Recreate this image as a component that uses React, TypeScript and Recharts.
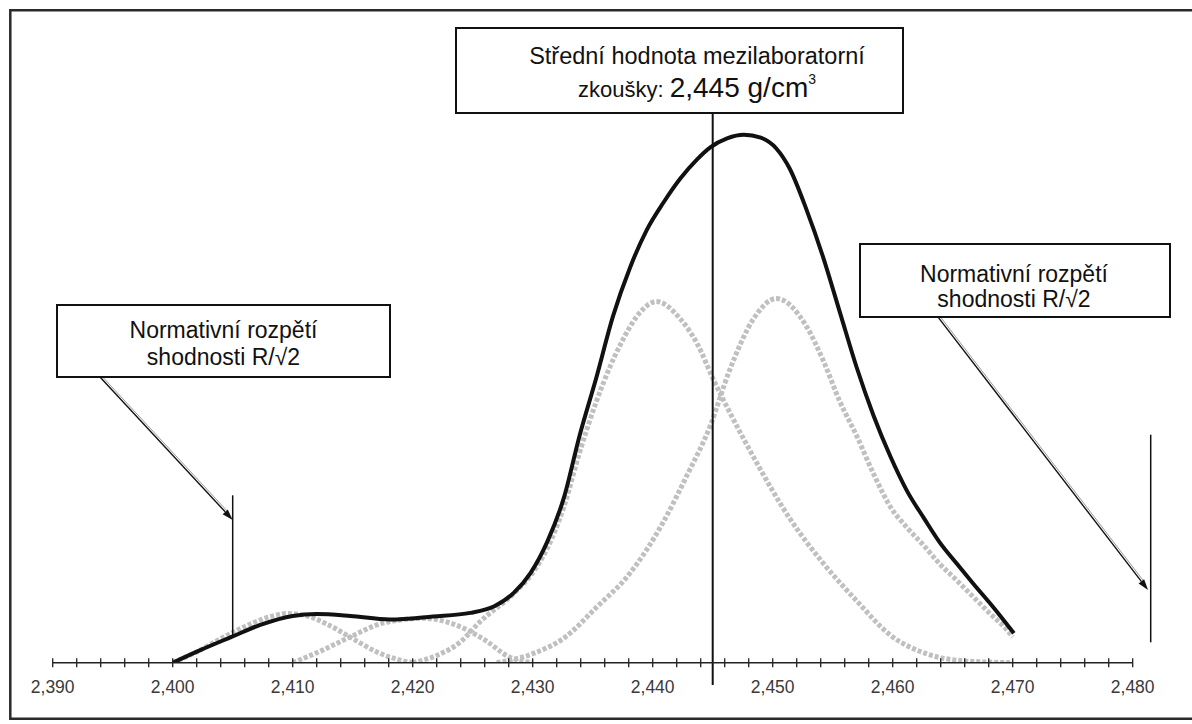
import React from 'react';
import { ComposedChart, Line, XAxis, YAxis, ReferenceLine } from 'recharts';

// x = density g/cm3, y = relative frequency (arbitrary units, 0..100)
const TOTAL_X = [2.4, 2.4023, 2.4049, 2.4073, 2.41, 2.412, 2.4148, 2.4181, 2.4217, 2.4248, 2.4268, 2.4284, 2.4298, 2.4312, 2.4326, 2.4339, 2.4353, 2.4367, 2.4381, 2.4395, 2.4409, 2.4423, 2.4437, 2.4448, 2.4462, 2.4476, 2.449, 2.4503, 2.4514, 2.4528, 2.4542, 2.4556, 2.457, 2.4584, 2.4598, 2.4612, 2.4626, 2.4639, 2.4653, 2.4667, 2.4684, 2.4701];
const TOTAL_Y = [0, 2.1, 4.3, 6.3, 7.8, 8.1, 7.8, 7.2, 7.7, 8.3, 9.4, 11.6, 14.9, 20.1, 27.5, 37.8, 47.5, 57.8, 65.8, 72.1, 76.7, 80.7, 83.9, 85.9, 87.4, 88.0, 87.5, 85.7, 82.4, 75.6, 67.6, 58.4, 49.2, 41.2, 34.4, 28.6, 24.1, 20.1, 16.6, 13.2, 9.2, 4.9];

const LAB_A_X = [2.4, 2.402, 2.404, 2.406, 2.408, 2.4095, 2.411, 2.413, 2.415, 2.417, 2.419, 2.42];
const LAB_A_Y = [0, 1.8, 4.0, 6.0, 7.6, 8.2, 7.9, 6.3, 4.0, 1.8, 0.4, 0];

const LAB_B_X = [2.41, 2.4125, 2.415, 2.4175, 2.421, 2.423, 2.426, 2.428, 2.43];
const LAB_B_Y = [0, 2.1, 4.5, 6.6, 7.4, 6.7, 3.8, 1.0, 0];

const LAB_C_X = [2.42, 2.422, 2.424, 2.4256, 2.4284, 2.43, 2.4312, 2.4326, 2.4339, 2.4353, 2.4373, 2.439, 2.4403, 2.4423, 2.4437, 2.4451, 2.4464, 2.4487, 2.4514, 2.4542, 2.457, 2.4598, 2.4628, 2.466, 2.47];
const LAB_C_Y = [0, 1.2, 3.5, 6.8, 11.5, 15, 19, 26, 35, 43.5, 53, 58.5, 60.2, 57.3, 53.2, 47, 41.8, 33.2, 24.1, 16.6, 10.3, 4.6, 1.5, 0.3, 0];

const LAB_D_X = [2.427, 2.43, 2.4326, 2.4353, 2.4381, 2.4409, 2.4428, 2.4448, 2.4464, 2.4484, 2.4503, 2.4528, 2.4542, 2.4556, 2.457, 2.4584, 2.4598, 2.4612, 2.4626, 2.4639, 2.4653, 2.4667, 2.4681, 2.4695, 2.47];
const LAB_D_Y = [0, 1.5, 4.1, 9.2, 14.9, 23.5, 31, 39.5, 48.7, 57.3, 60.7, 56.1, 50.4, 43.5, 37.8, 31.5, 26, 22.5, 19.5, 16.5, 13.8, 11, 8.2, 5.5, 4.3];

const TICK_VALUES = [2.39, 2.4, 2.41, 2.42, 2.43, 2.44, 2.45, 2.46, 2.47, 2.48];
const TICK_LABELS = ['2,390', '2,400', '2,410', '2,420', '2,430', '2,440', '2,450', '2,460', '2,470', '2,480'];

const MEAN = 2.445;
const LOWER_LIMIT = 2.405;
const UPPER_LIMIT = 2.4815;

const zip = (xs: number[], ys: number[]) => xs.map((x, i) => ({ x, y: ys[i] }));

const total = zip(TOTAL_X, TOTAL_Y);
const labs = [zip(LAB_A_X, LAB_A_Y), zip(LAB_B_X, LAB_B_Y), zip(LAB_C_X, LAB_C_Y), zip(LAB_D_X, LAB_D_Y)];

// minor ticks every 0.002 between the labelled ones
const allTicks: number[] = [];
for (let i = 0; i < TICK_VALUES.length - 1; i++) {
  for (let k = 0; k < 5; k++) allTicks.push(Math.round((TICK_VALUES[i] + k * 0.002) * 1000) / 1000);
}
allTicks.push(TICK_VALUES[TICK_VALUES.length - 1]);

const FONT = '"Liberation Sans", Arial, sans-serif';

const AxisTick = (props: any) => {
  const { x, y, payload } = props;
  const idx = TICK_VALUES.findIndex((v) => Math.abs(v - payload.value) < 1e-6);
  return (
    <g>
      <line x1={x} y1={y - 4.5} x2={x} y2={y + 4.5} stroke="#222" strokeWidth={1.3} />
      {idx >= 0 && (
        <text x={x} y={y + 30.5} textAnchor="middle" fontSize={17.5} fill="#3a3a3a" fontFamily={FONT}>
          {TICK_LABELS[idx]}
        </text>
      )}
    </g>
  );
};

const Arrow = (props: any) => {
  const { x1, y1, x2, y2 } = props;
  const ang = Math.atan2(y2 - y1, x2 - x1);
  const len = 11;
  const half = 3.5;
  const bx = x2 - len * Math.cos(ang);
  const by = y2 - len * Math.sin(ang);
  const nx = -Math.sin(ang);
  const ny = Math.cos(ang);
  return (
    <g>
      <line x1={x1 - nx * 2} y1={y1 - ny * 2} x2={bx - nx * 2} y2={by - ny * 2} stroke="#9a9a9a" strokeWidth={1} />
      <line x1={x1} y1={y1} x2={bx} y2={by} stroke="#111" strokeWidth={1.4} />
      <polygon points={`${x2},${y2} ${bx + nx * half},${by + ny * half} ${bx - nx * half},${by - ny * half}`} fill="#111" />
    </g>
  );
};

const Annotations = () => (
  <svg width={1192} height={724} style={{ position: 'absolute', left: 0, top: 0, pointerEvents: 'none' }} fontFamily={FONT}>
    <path d="M 1200 10.3 H 10.3 V 718.7 H 1200" fill="none" stroke="#2a2a2a" strokeWidth={2.5} />

    <rect x={456} y={28} width={447} height={85} fill="#fff" stroke="#111" strokeWidth={2} />
    <text x={697} y={63.5} textAnchor="middle" fontSize={23.5} fill="#111">Střední hodnota mezilaboratorní</text>
    <text x={697} y={96.5} textAnchor="middle" fill="#111">
      <tspan fontSize={22}>zkoušky: </tspan>
      <tspan fontSize={28}>2,445 g/cm</tspan>
      <tspan fontSize={14} dy={-13}>3</tspan>
    </text>

    <rect x={57} y={305} width={333} height={72} fill="#fff" stroke="#111" strokeWidth={2} />
    <text x={223.5} y={338} textAnchor="middle" fontSize={23} fill="#111">Normativní rozpětí</text>
    <text x={223.5} y={365} textAnchor="middle" fontSize={23} fill="#111">shodnosti R/√2</text>

    <rect x={860} y={244} width={310} height={73} fill="#fff" stroke="#111" strokeWidth={2} />
    <text x={1014} y={281.5} textAnchor="middle" fontSize={23} fill="#111">Normativní rozpětí</text>
    <text x={1014} y={306.5} textAnchor="middle" fontSize={23} fill="#111">shodnosti R/√2</text>
  </svg>
);

export default function App() {
  return (
    <div style={{ position: 'absolute', left: 0, top: 0, width: 1192, height: 724, background: '#fff', overflow: 'hidden' }}>
      <ComposedChart width={1192} height={724} margin={{ top: 62.7, right: 59.3, bottom: 31.3, left: 52.7 }}>
        <XAxis
          type="number"
          dataKey="x"
          domain={[2.39, 2.48]}
          ticks={allTicks}
          interval={0}
          height={30}
          tick={<AxisTick />}
          tickLine={false}
          tickSize={0}
          tickMargin={0}
          axisLine={{ stroke: '#222', strokeWidth: 1.4 }}
          allowDataOverflow
        />
        <YAxis type="number" domain={[0, 100]} hide width={0} allowDataOverflow />
        {labs.map((d, i) => (
          <Line
            key={i}
            data={d}
            dataKey="y"
            type="monotone"
            stroke="#c0c0c0"
            strokeWidth={5}
            strokeDasharray="4 2"
            dot={false}
            activeDot={false}
            isAnimationActive={false}
          />
        ))}
        <Line
          data={total}
          dataKey="y"
          type="monotone"
          stroke="#111"
          strokeWidth={4}
          dot={false}
          activeDot={false}
          isAnimationActive={false}
        />
        <ReferenceLine segment={[{ x: MEAN, y: -3.7 }, { x: MEAN, y: 91.6 }]} stroke="#111" strokeWidth={2} ifOverflow="visible" />
        <ReferenceLine segment={[{ x: LOWER_LIMIT, y: 4.3 }, { x: LOWER_LIMIT, y: 27.9 }]} stroke="#111" strokeWidth={1.5} ifOverflow="visible" />
        <ReferenceLine segment={[{ x: UPPER_LIMIT, y: 3.4 }, { x: UPPER_LIMIT, y: 38 }]} stroke="#111" strokeWidth={1.5} ifOverflow="visible" />
        <ReferenceLine segment={[{ x: 2.39394, y: 47.6 }, { x: 2.405, y: 23.8 }]} ifOverflow="visible" shape={<Arrow />} />
        <ReferenceLine segment={[{ x: 2.46378, y: 57.6 }, { x: 2.48128, y: 12.1 }]} ifOverflow="visible" shape={<Arrow />} />
      </ComposedChart>
      <Annotations />
    </div>
  );
}
